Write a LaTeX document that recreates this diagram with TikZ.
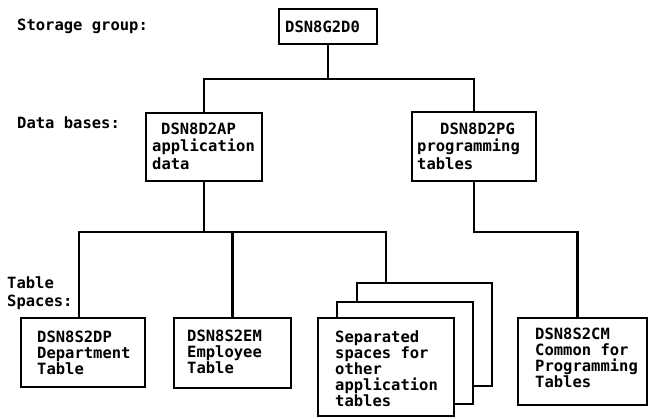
\documentclass[tikz,border=0pt]{standalone}
\usepackage{fontspec}
\newfontfamily\diagmono{DejaVu Sans Mono}
\begin{document}
\begin{tikzpicture}[x=1pt,y=-1pt,
  box/.style={draw, line width=2.2pt, fill=white, inner sep=0pt, outer sep=0pt, anchor=north west},
  txt/.style={font=\diagmono\bfseries\fontsize{15.5}{16}\selectfont, align=left, inner sep=0pt, anchor=north west},
  lbl/.style={font=\diagmono\bfseries\fontsize{15.5}{16}\selectfont, inner sep=0pt, anchor=base west},
  conn/.style={line width=2.2pt}]
\useasboundingbox (0,0) rectangle (650,418);

% labels
\node[lbl] (l1) at (17,30.5) {Storage group:};
\node[lbl] (l2) at (17,128.5) {Data bases:};
\node[txt] (l3) at (7,276.5) {Table\\[2pt]Spaces:};

% storage group
\node[box, minimum width=98pt, minimum height=35pt] (g) at (279,9) {};
\node[txt] (gt) at (285,20.5) {DSN8G2D0};

% data bases
\node[box, minimum width=116pt, minimum height=68pt] (ap) at (146,113) {};
\node[txt, font=\diagmono\bfseries\fontsize{15.5}{17.5}\selectfont] (apt) at (152,122.5) {\hspace*{9pt}DSN8D2AP\\application\\data};
\node[box, minimum width=124pt, minimum height=69pt] (pg) at (412,112) {};
\node[txt, font=\diagmono\bfseries\fontsize{15.5}{17.5}\selectfont] (pgt) at (417,122.5) {\hspace*{23pt}DSN8D2PG\\programming\\tables};

% table spaces
\node[box, minimum width=124pt, minimum height=69pt] (dp) at (21,318) {};
\node[txt] (dpt) at (37,330.5) {DSN8S2DP\\Department\\Table};
\node[box, minimum width=117pt, minimum height=70pt] (em) at (174,318) {};
\node[txt] (emt) at (187,329.5) {DSN8S2EM\\Employee\\Table};
\node[box, minimum width=135pt, minimum height=103pt] (back) at (357,283) {};
\node[box, minimum width=136pt, minimum height=102pt] (mid) at (337,302) {};
\node[box, minimum width=136pt, minimum height=98pt] (front) at (318,318) {};
\node[txt] (frt) at (335,330.5) {Separated\\spaces for\\other\\application\\tables};
\node[box, minimum width=129pt, minimum height=87pt] (cm) at (518,318) {};
\node[txt] (cmt) at (535,327.5) {DSN8S2CM\\Common for\\Programming\\Tables};

% connectors
\coordinate (b1) at (328,79);
\draw[conn] (g.south) -- (b1);
\draw[conn] (ap.north) |- (b1) -| (pg.north);
\coordinate (b2) at (204,232);
\draw[conn] (ap.south) -- (b2);
\draw[conn] ([xshift=-4pt]dp.north) |- (b2) -| ([xshift=29pt]back.north west);
\draw[conn] (em.north) -- (em.north |- b2);
\coordinate (b3) at (474,232);
\draw[conn] (pg.south) -- (b3) -| ([xshift=-5pt]cm.north);
\end{tikzpicture}
\end{document}
